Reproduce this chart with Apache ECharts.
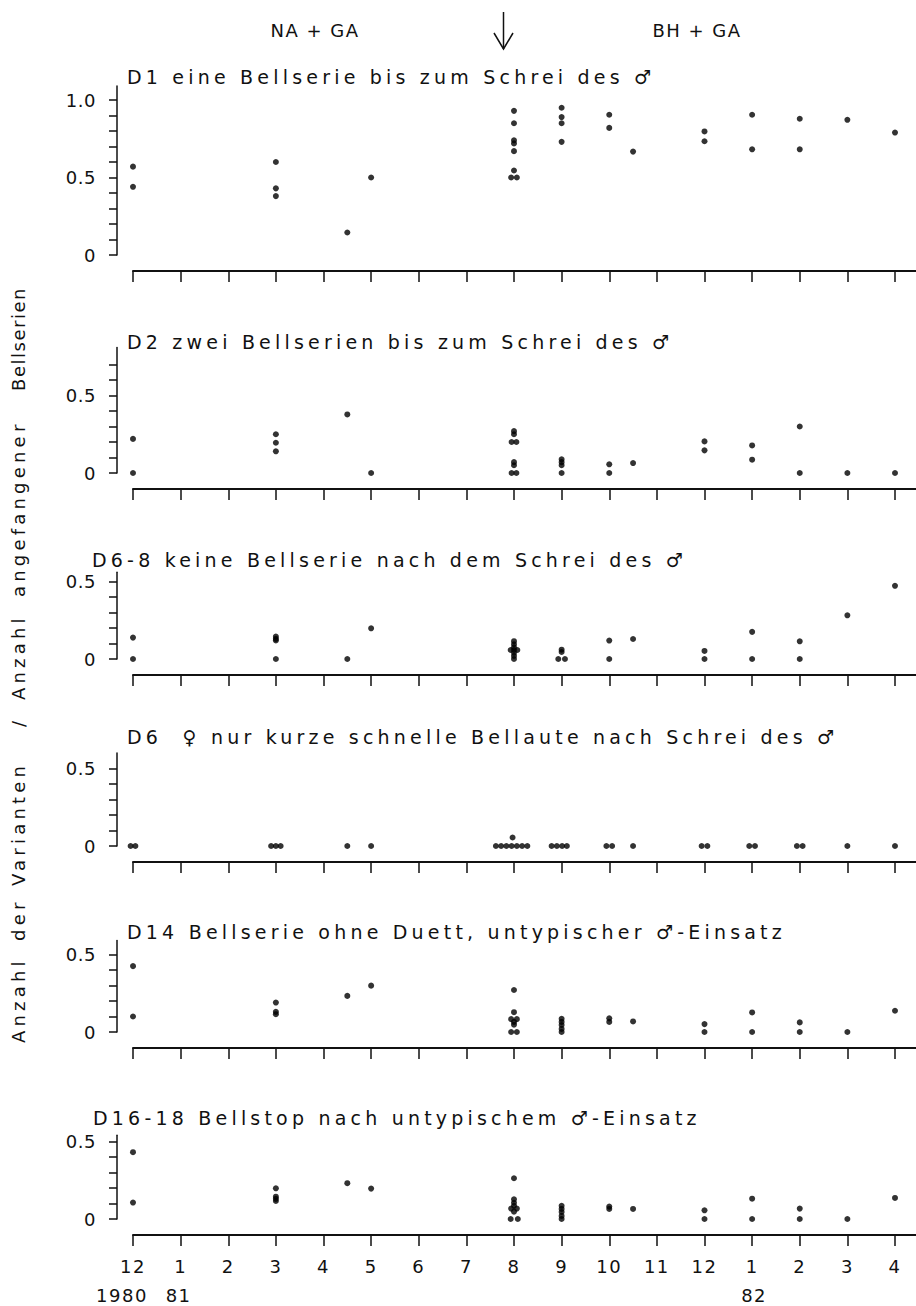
<!DOCTYPE html>
<html>
<head>
<meta charset="utf-8">
<script src="https://cdn.jsdelivr.net/npm/echarts@6/dist/echarts.min.js"></script>
<style>
html,body{margin:0;padding:0;background:#fff;}
#chart{width:916px;height:1306px;}
#chart text{white-space:pre;letter-spacing:1.5px;}
#chart text[text-anchor="start"]{letter-spacing:4.2px;}
#chart text[text-anchor="end"]{letter-spacing:0.5px;}
</style>
</head>
<body>
<div id="chart"></div>
<script>
// ---- data (month index: 0 = Dec 1980 ... 16 = Apr 1982) ----
const monthLabels = ['12','1','2','3','4','5','6','7','8','9','10','11','12','1','2','3','4'];
const yearLabels = [['1980', 0], ['81', 1], ['82', 13]];
const headerLabels = ['NA + GA', 'BH + GA'];
const yTitleWords = ['Anzahl', 'der', 'Varianten', '/', 'Anzahl', 'angefangener', 'Bellserien'];
const panelTitles = [
  'D1 eine Bellserie bis zum Schrei des \u2642',
  'D2 zwei Bellserien bis zum Schrei des \u2642',
  'D6-8 keine Bellserie nach dem Schrei des \u2642',
  'D6  \u2640 nur kurze schnelle Bellaute nach Schrei des \u2642',
  'D14 Bellserie ohne Duett, untypischer \u2642-Einsatz',
  'D16-18 Bellstop nach untypischem \u2642-Einsatz'
];
const d1 = [[0,0.57],[0,0.44],[3,0.60],[3,0.43],[3,0.38],[4.5,0.145],[5,0.5],
  [8,0.93],[8,0.85],[8,0.74],[8,0.72],[8,0.67],[8,0.545],[7.94,0.5],[8.06,0.5],
  [9,0.95],[9,0.89],[9,0.85],[9,0.73],[10,0.905],[10,0.82],[10.5,0.667],
  [12,0.797],[12,0.734],[13,0.905],[13,0.682],[14,0.879],[14,0.682],[15,0.872],[16,0.79]];
const d2 = [[0,0.22],[0,0],[3,0.25],[3,0.195],[3,0.14],[4.5,0.378],[5,0],
  [8,0.27],[8,0.25],[7.95,0.2],[8.05,0.2],[8,0.07],[8,0.05],[7.95,0],[8.05,0],
  [9,0.088],[9,0.07],[9,0.05],[9,0],[10,0.056],[10,0],[10.5,0.064],
  [12,0.204],[12,0.146],[13,0.178],[13,0.086],[14,0.3],[14,0],[15,0],[16,0]];
const d3 = [[0,0.138],[0,0],[3,0.145],[3,0.13],[3,0.12],[3,0],[4.5,0],[5,0.198],
  [8,0.115],[8,0.095],[8,0.075],[7.93,0.058],[8,0.058],[8.07,0.058],[8,0.04],[8,0.02],[8,0],
  [9,0.06],[9,0.045],[8.93,0],[9.07,0],[10,0.119],[10,0],[10.5,0.129],
  [12,0.052],[12,0],[13,0.175],[13,0],[14,0.114],[14,0],[15,0.282],[16,0.472]];
const d4 = [[-0.05,0],[0.05,0],[2.9,0],[3,0],[3.1,0],[4.5,0],[5,0],
  [7.62,0],[7.73,0],[7.84,0],[7.95,0],[8.06,0],[8.17,0],[8.28,0],[7.97,0.055],
  [8.79,0],[8.9,0],[9.01,0],[9.11,0],[9.94,0],[10.06,0],[10.5,0],
  [11.94,0],[12.06,0],[12.94,0],[13.06,0],[13.94,0],[14.06,0],[15,0],[16,0]];
const d5 = [[0,0.425],[0,0.1],[3,0.19],[3,0.13],[3,0.115],[4.5,0.233],[5,0.299],
  [8,0.271],[8,0.128],[7.94,0.083],[8.06,0.083],[8,0.065],[8,0.047],[7.94,0],[8.06,0],
  [9,0.085],[9,0.065],[9,0.045],[9,0.02],[9,0],[10,0.088],[10,0.065],[10.5,0.068],
  [12,0.051],[12,0],[13,0.126],[13,0],[14,0.062],[14,0],[15,0],[16,0.137]];
const d6 = [[0,0.431],[0,0.106],[3,0.198],[3,0.144],[3,0.13],[3,0.116],[4.5,0.231],[5,0.196],
  [8,0.263],[8,0.127],[8,0.105],[8,0.085],[7.94,0.067],[8.06,0.067],[8,0.047],[7.93,0],[8.08,0],
  [9,0.085],[9,0.065],[9,0.045],[9,0.02],[9,0],[10,0.08],[10,0.065],[10.5,0.065],
  [12,0.056],[12,0],[13,0.131],[13,0],[14,0.067],[14,0],[15,0],[16,0.136]];

// ---- layout ----
const FONT = 'DejaVu Sans, Liberation Sans, sans-serif';
const INK = '#111';
const UNIT = 155;           // px per 1.0 on every y axis
const GRID_LEFT = 133, GRID_WIDTH = 783;
const panels = [
  {data: d1, bottom: 255, max: 1.09, tickMax: 10, labels: [0, 0.5, 1.0], tx: 127, ty: 77},
  {data: d2, bottom: 473, max: 0.81, tickMax: 7, labels: [0, 0.5], tx: 127, ty: 342},
  {data: d3, bottom: 659, max: 0.56, tickMax: 5, labels: [0, 0.5], tx: 92, ty: 560},
  {data: d4, bottom: 846, max: 0.6, tickMax: 5, labels: [0, 0.5], tx: 127, ty: 737},
  {data: d5, bottom: 1032, max: 0.59, tickMax: 5, labels: [0, 0.5], tx: 127, ty: 932},
  {data: d6, bottom: 1219, max: 0.54, tickMax: 5, labels: [0, 0.5], tx: 93, ty: 1118}
];
const monthTicks = monthLabels.map((_, i) => i);

const chart = echarts.init(document.getElementById('chart'), null, {renderer: 'svg', width: 916, height: 1306});

const grid = [], xAxis = [], yAxis = [], series = [];
const graphics = [];
panels.forEach((p, i) => {
  const h = p.max * UNIT;
  grid.push({left: GRID_LEFT, width: GRID_WIDTH, top: p.bottom - h, height: h, containLabel: false});
  const yTicks = [];
  for (let k = 0; k <= p.tickMax; k++) yTicks.push(k / 10);
  xAxis.push({
    gridIndex: i, type: 'value', min: 0, max: GRID_WIDTH / 47.625, offset: 16,
    axisLine: {onZero: false, lineStyle: {color: INK, width: 2}},
    axisTick: {customValues: monthTicks, length: 11, lineStyle: {color: INK, width: 1.5}},
    axisLabel: {show: i === panels.length - 1, customValues: monthTicks, margin: 22,
      formatter: v => monthLabels[Math.round(v)], color: INK, fontFamily: FONT, fontSize: 18},
    splitLine: {show: false}
  });
  yAxis.push({
    gridIndex: i, type: 'value', min: 0, max: p.max, offset: 16,
    axisLine: {show: true, onZero: false, lineStyle: {color: INK, width: 1.5}},
    axisTick: {customValues: yTicks, length: 8, lineStyle: {color: INK, width: 1.5}},
    axisLabel: {customValues: p.labels, margin: 21, color: INK, fontFamily: FONT, fontSize: 18,
      formatter: v => (v === 0 ? '0' : v.toFixed(1))},
    splitLine: {show: false}
  });
  series.push({
    type: 'scatter', xAxisIndex: i, yAxisIndex: i, data: p.data,
    symbol: 'circle', symbolSize: 6, itemStyle: {color: '#000'}, clip: false, silent: true
  });
  graphics.push({type: 'text', x: p.tx, y: p.ty,
    style: {text: panelTitles[i], fill: INK, font: '19px ' + FONT, align: 'left', verticalAlign: 'middle'}});
});

// header
graphics.push({type: 'text', x: 315, y: 30, style: {text: headerLabels[0], fill: INK, font: '18px ' + FONT, align: 'center', verticalAlign: 'middle'}});
graphics.push({type: 'text', x: 697, y: 30, style: {text: headerLabels[1], fill: INK, font: '18px ' + FONT, align: 'center', verticalAlign: 'middle'}});
graphics.push({type: 'line', shape: {x1: 503.5, y1: 12, x2: 503.5, y2: 49}, style: {stroke: INK, lineWidth: 1.5}});
graphics.push({type: 'polyline', shape: {points: [[494, 33], [503.5, 49], [513, 33]]}, style: {stroke: INK, lineWidth: 1.5, fill: null}});

// vertical y-axis title: each word starts (bottom end) at the given y and runs upward
const yTitleStarts = [1043, 941, 886, 727, 700, 597, null];
yTitleWords.forEach((w, k) => {
  const start = yTitleStarts[k];
  graphics.push({type: 'text', x: 18, y: start === null ? 339 : start, rotation: Math.PI / 2,
    style: {text: w, fill: INK, font: '18px ' + FONT, align: start === null ? 'center' : 'left', verticalAlign: 'middle'}});
});

chart.setOption({
  animation: false,
  backgroundColor: '#fff',
  grid, xAxis, yAxis, series,
  graphic: {elements: graphics}
});

// year labels under the month ticks of the bottom axis
const yearOffsets = [-11, -2, 2];
const yearEls = yearLabels.map(([t, m], k) => ({
  type: 'text', x: chart.convertToPixel({xAxisIndex: 5}, m) + yearOffsets[k], y: 1295,
  style: {text: t, fill: INK, font: '18px ' + FONT, align: 'center', verticalAlign: 'middle'}
}));
chart.setOption({graphic: {elements: graphics.concat(yearEls)}});
</script>
</body>
</html>
